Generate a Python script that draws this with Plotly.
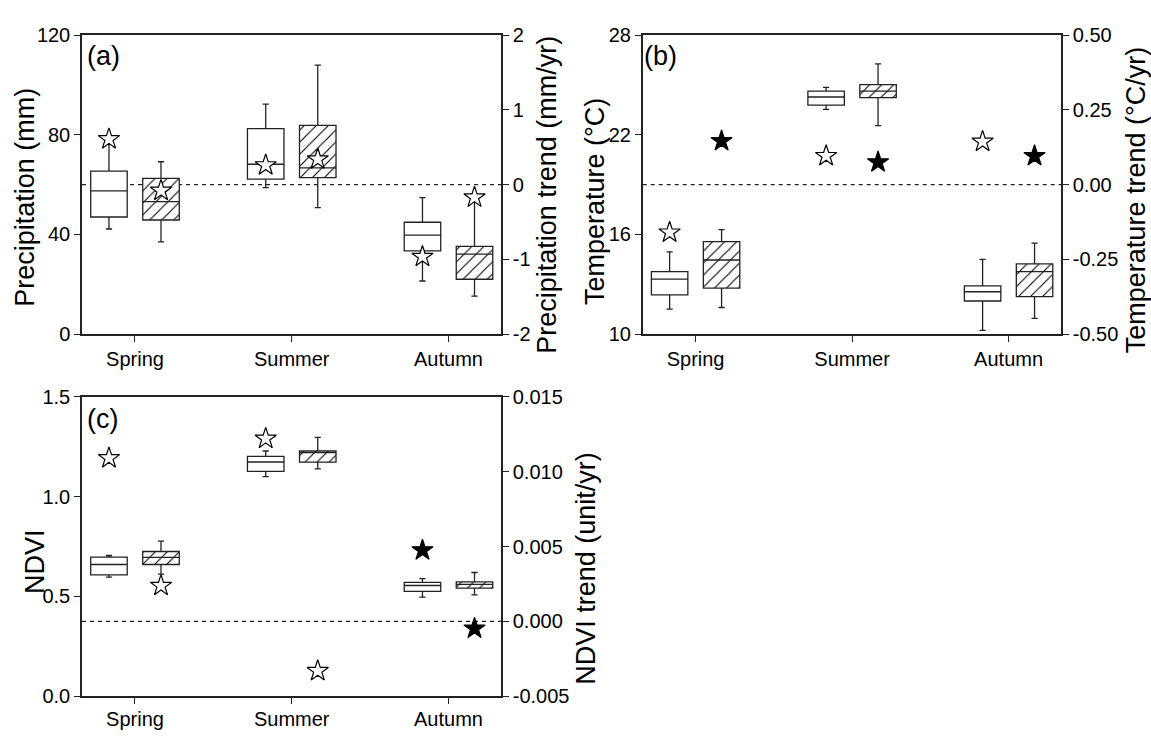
import plotly.graph_objects as go

# ---------------- data ----------------
seasons = ["Spring", "Summer", "Autumn"]
season_pos = [1, 2, 3]

# Panel (a) precipitation (mm) and trend (mm/yr)
prec_plain_lo = [42.2, 58.8, 21.3]
prec_plain_q1 = [47.0, 62.2, 33.4]
prec_plain_med = [57.5, 68.2, 39.7]
prec_plain_q3 = [65.4, 82.5, 44.9]
prec_plain_hi = [77.0, 92.3, 54.8]
prec_hatch_lo = [37.0, 50.8, 15.2]
prec_hatch_q1 = [45.8, 62.8, 22.0]
prec_hatch_med = [53.2, 66.7, 32.1]
prec_hatch_q3 = [62.5, 83.8, 35.2]
prec_hatch_hi = [69.2, 108.0, 54.0]
prec_trend_plain = [0.61, 0.26, -0.965]
prec_trend_hatch = [-0.08, 0.34, -0.17]
prec_sig_plain = [False, False, False]
prec_sig_hatch = [False, False, False]

# Panel (b) temperature (°C) and trend (°C/yr)
temp_plain_lo = [11.50, 23.54, 10.22]
temp_plain_q1 = [12.36, 23.79, 11.99]
temp_plain_med = [13.31, 24.28, 12.55]
temp_plain_q3 = [13.76, 24.63, 12.90]
temp_plain_hi = [14.95, 24.86, 14.50]
temp_hatch_lo = [11.60, 22.55, 10.95]
temp_hatch_q1 = [12.77, 24.24, 12.26]
temp_hatch_med = [14.46, 24.63, 13.76]
temp_hatch_q3 = [15.57, 25.02, 14.23]
temp_hatch_hi = [16.29, 26.27, 15.48]
temp_trend_plain = [-0.160, 0.096, 0.144]
temp_trend_hatch = [0.146, 0.075, 0.096]
temp_sig_plain = [False, False, False]
temp_sig_hatch = [True, True, True]

# Panel (c) NDVI and trend (unit/yr)
ndvi_plain_lo = [0.597, 1.100, 0.497]
ndvi_plain_q1 = [0.608, 1.126, 0.526]
ndvi_plain_med = [0.660, 1.173, 0.555]
ndvi_plain_q3 = [0.697, 1.201, 0.571]
ndvi_plain_hi = [0.705, 1.228, 0.589]
ndvi_hatch_lo = [0.612, 1.139, 0.508]
ndvi_hatch_q1 = [0.660, 1.172, 0.542]
ndvi_hatch_med = [0.696, 1.220, 0.561]
ndvi_hatch_q3 = [0.725, 1.228, 0.573]
ndvi_hatch_hi = [0.777, 1.296, 0.620]
ndvi_trend_plain = [0.0109, 0.0122, 0.00475]
ndvi_trend_hatch = [0.00238, -0.0033, -0.00047]
ndvi_sig_plain = [False, False, True]
ndvi_sig_hatch = [False, False, True]

# tick labels
prec_ticks = [0, 40, 80, 120]
prec_ticktext = ["0", "40", "80", "120"]
prec_trend_ticks = [-2, -1, 0, 1, 2]
prec_trend_ticktext = ["-2", "-1", "0", "1", "2"]
temp_ticks = [10, 16, 22, 28]
temp_ticktext = ["10", "16", "22", "28"]
temp_trend_ticks = [-0.5, -0.25, 0, 0.25, 0.5]
temp_trend_ticktext = ["-0.50", "-0.25", "0.00", "0.25", "0.50"]
ndvi_ticks = [0, 0.5, 1.0, 1.5]
ndvi_ticktext = ["0.0", "0.5", "1.0", "1.5"]
ndvi_trend_ticks = [-0.005, 0, 0.005, 0.010, 0.015]
ndvi_trend_ticktext = ["-0.005", "0.000", "0.005", "0.010", "0.015"]

# axis titles
prec_title = "Precipitation (mm)"
prec_trend_title = "Precipitation trend (mm/yr)"
temp_title = "Temperature (°C)"
temp_trend_title = "Temperature trend (°C/yr)"
ndvi_title = "NDVI"
ndvi_trend_title = "NDVI trend (unit/yr)"

# ---------------- style ----------------
FONT = "Liberation Sans, Arial, sans-serif"
INK = "#222222"
OFF = 0.166
BW = 0.233
TICKF = 20
TITLEF = 27
W, H = 1151, 737

fig = go.Figure()

panels = [
    dict(x="x", y="y", y2="y2", label="(a)", lab_xy=(84.5, 46),
         plain=(prec_plain_lo, prec_plain_q1, prec_plain_med, prec_plain_q3, prec_plain_hi),
         hatch=(prec_hatch_lo, prec_hatch_q1, prec_hatch_med, prec_hatch_q3, prec_hatch_hi),
         tp=prec_trend_plain, th=prec_trend_hatch, sp=prec_sig_plain, sh=prec_sig_hatch),
    dict(x="x2", y="y3", y2="y4", label="(b)", lab_xy=(641.5, 46),
         plain=(temp_plain_lo, temp_plain_q1, temp_plain_med, temp_plain_q3, temp_plain_hi),
         hatch=(temp_hatch_lo, temp_hatch_q1, temp_hatch_med, temp_hatch_q3, temp_hatch_hi),
         tp=temp_trend_plain, th=temp_trend_hatch, sp=temp_sig_plain, sh=temp_sig_hatch),
    dict(x="x3", y="y5", y2="y6", label="(c)", lab_xy=(84.5, 421),
         plain=(ndvi_plain_lo, ndvi_plain_q1, ndvi_plain_med, ndvi_plain_q3, ndvi_plain_hi),
         hatch=(ndvi_hatch_lo, ndvi_hatch_q1, ndvi_hatch_med, ndvi_hatch_q3, ndvi_hatch_hi),
         tp=ndvi_trend_plain, th=ndvi_trend_hatch, sp=ndvi_sig_plain, sh=ndvi_sig_hatch),
]

pos_plain = [p - OFF for p in season_pos]
pos_hatch = [p + OFF for p in season_pos]

for pn in panels:
    lo, q1, med, q3, hi = pn["hatch"]
    # hatch fill behind hatched boxes
    fig.add_trace(go.Bar(
        x=pos_hatch, y=[b - a for a, b in zip(q1, q3)], base=q1, width=BW,
        marker=dict(color="white", line=dict(width=0),
                    pattern=dict(shape="/", fgcolor="#000000", bgcolor="white",
                                 fgopacity=1, size=8.5, solidity=0.13)),
        xaxis=pn["x"], yaxis=pn["y"], showlegend=False, hoverinfo="skip"))
    lo_p, q1_p, med_p, q3_p, hi_p = pn["plain"]
    fig.add_trace(go.Box(
        x=pos_plain, lowerfence=lo_p, q1=q1_p, median=med_p, q3=q3_p, upperfence=hi_p,
        width=BW, whiskerwidth=0.17, fillcolor="white", boxpoints=False,
        line=dict(color=INK, width=1.3), xaxis=pn["x"], yaxis=pn["y"], showlegend=False))
    fig.add_trace(go.Box(
        x=pos_hatch, lowerfence=lo, q1=q1, median=med, q3=q3, upperfence=hi,
        width=BW, whiskerwidth=0.17, fillcolor="rgba(0,0,0,0)", boxpoints=False,
        line=dict(color=INK, width=1.3), xaxis=pn["x"], yaxis=pn["y"], showlegend=False))
    for xs, tr, sg in ((pos_plain, pn["tp"], pn["sp"]), (pos_hatch, pn["th"], pn["sh"])):
        fig.add_trace(go.Scatter(
            x=xs, y=tr, mode="markers",
            marker=dict(symbol="star", size=16,
                        color=["black" if s else "white" for s in sg],
                        line=dict(color="black", width=1.2)),
            xaxis=pn["x"], yaxis=pn["y2"], showlegend=False))
    # zero-trend dashed line
    fig.add_shape(type="line", xref=pn["x"] + " domain", yref=pn["y2"],
                  x0=0, x1=1, y0=0, y1=0, layer="below",
                  line=dict(color=INK, width=1.2, dash="4px,4px"))
    lx, ly = pn["lab_xy"]
    fig.add_annotation(text=pn["label"], xref="paper", yref="paper",
                       x=lx / W, y=1 - ly / H, xanchor="left", yanchor="middle", showarrow=False,
                       font=dict(size=TITLEF, color="black", family=FONT))

# axis titles (rotated text, placed as in the reference)
for t, cx, cy in ((prec_title, 25.5, 192), (prec_trend_title, 547.5, 190),
                  (temp_title, 595, 197), (temp_trend_title, 1136, 195),
                  (ndvi_title, 35, 568), (ndvi_trend_title, 586, 575)):
    fig.add_annotation(text=t, xref="paper", yref="paper", x=cx / W, y=1 - cy / H,
                       xanchor="center", yanchor="middle", textangle=-90, showarrow=False,
                       font=dict(size=TITLEF, color="black", family=FONT))

dom_ax = [82 / W, 501 / W]
dom_bx = [642.7 / W, 1061 / W]
dom_top = [1 - 333 / H, 1 - 25 / H]
dom_bot = [1 - 706.5 / H, 1 - 397.5 / H]

common_x = dict(range=[0.662, 3.335], tickvals=season_pos, ticktext=seasons,
                showline=True, mirror=True, linecolor=INK, linewidth=1.5,
                ticks="outside", ticklen=6, tickwidth=1.3, tickcolor=INK,
                showgrid=False, zeroline=False,
                tickfont=dict(size=TICKF, color="black", family=FONT))
common_y = dict(showline=True, linecolor=INK, linewidth=1.5,
                ticks="outside", ticklen=6, tickwidth=1.3, tickcolor=INK,
                showgrid=False, zeroline=False,
                tickfont=dict(size=TICKF, color="black", family=FONT))

fig.update_layout(
    width=W, height=H, margin=dict(l=0, r=0, t=0, b=0),
    paper_bgcolor="white", plot_bgcolor="white",
    barmode="overlay", boxmode="overlay",
    font=dict(family=FONT, color="black"),
    xaxis=dict(common_x, domain=dom_ax, anchor="y"),
    yaxis=dict(common_y, domain=dom_top, anchor="x", range=[0, 120],
               tickvals=prec_ticks, ticktext=prec_ticktext),
    yaxis2=dict(common_y, overlaying="y", anchor="x", side="right", range=[-2, 2],
                tickvals=prec_trend_ticks, ticktext=prec_trend_ticktext),
    xaxis2=dict(common_x, domain=dom_bx, anchor="y3"),
    yaxis3=dict(common_y, domain=dom_top, anchor="x2", range=[10, 28],
                tickvals=temp_ticks, ticktext=temp_ticktext),
    yaxis4=dict(common_y, overlaying="y3", anchor="x2", side="right", range=[-0.5, 0.5],
                tickvals=temp_trend_ticks, ticktext=temp_trend_ticktext),
    xaxis3=dict(common_x, domain=dom_ax, anchor="y5", ticklabelstandoff=-2),
    yaxis5=dict(common_y, domain=dom_bot, anchor="x3", range=[0, 1.5],
                tickvals=ndvi_ticks, ticktext=ndvi_ticktext),
    yaxis6=dict(common_y, overlaying="y5", anchor="x3", side="right", range=[-0.005, 0.015],
                tickvals=ndvi_trend_ticks, ticktext=ndvi_trend_ticktext),
)

fig.write_html("out.html", config={"displayModeBar": False},
               post_script="document.body.style.margin='0';document.body.style.padding='0';")
